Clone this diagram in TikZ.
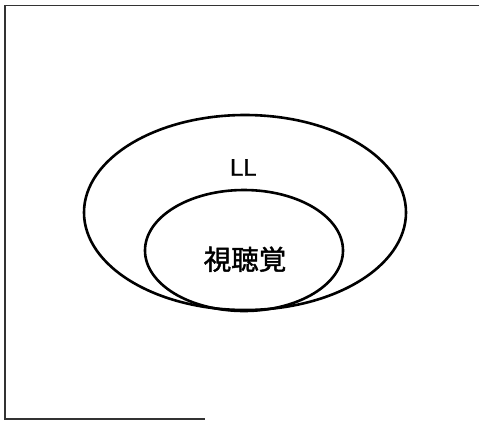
\documentclass[tikz,border=0pt]{standalone}
\usepackage{fontspec}
\setmainfont{Liberation Sans}
\newfontfamily\cjkfont[FakeBold=1.5]{Noto Sans CJK JP}
\newfontfamily\llfont[FakeBold=0.8]{Liberation Sans}
\usetikzlibrary{shapes.geometric}
\begin{document}
\begin{tikzpicture}[x=1pt,y=-1pt,
  setell/.style={draw=black, ellipse, line width=2.6pt, inner sep=0pt},
  framebar/.style={draw=black!80, line width=1.2pt},
  lbl/.style={inner sep=0pt, text=black}]
\useasboundingbox (0,0) rectangle (481,421);
\fill[white] (0,0) rectangle (481,421);
% partial frame (scanned)
\coordinate (tl) at (5,5.5);
\coordinate (tr) at (479,5.5);
\coordinate (bl) at (5,419);
\coordinate (br) at (205,419);
\draw[framebar] (tr) -- (tl) -- (bl) -- (br);
% sets
\node[setell, minimum width=322pt, minimum height=195pt] (outer) at (245,212.5) {};
\node[setell, minimum width=198pt, minimum height=121pt] (inner) at (244,250.5) {};
% labels
\node[lbl, font=\llfont\fontsize{24}{24}\selectfont, anchor=base] (ll) at (243.3,175.7) {LL};
\node[lbl, font=\cjkfont\fontsize{27.5}{27.5}\selectfont] (av) at (245,259.2) {視聴覚};
\end{tikzpicture}
\end{document}
